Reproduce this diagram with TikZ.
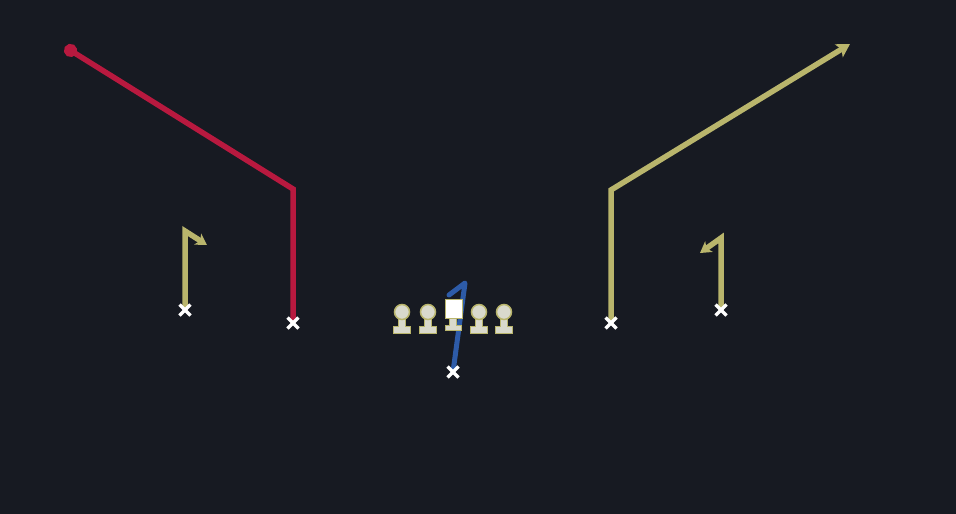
\documentclass[tikz,border=0pt]{standalone}
\usetikzlibrary{arrows.meta}
\definecolor{bg}{HTML}{171A22}
\definecolor{redr}{HTML}{B8193F}
\definecolor{yelr}{HTML}{B9B56C}
\definecolor{bluer}{HTML}{2D5BA8}
\definecolor{linem}{HTML}{D9D9CC}
\begin{document}
\begin{tikzpicture}[x=1pt,y=-1pt,
  route/.style={line width=5.5pt,line join=miter},
  lineman/.style={inner sep=0pt,minimum size=0pt}]
\fill[bg] (0,0) rectangle (956,514);
\useasboundingbox (0,0) rectangle (956,514);
% players (X marks)
\foreach \n/\x/\y in {wl/185/310, sl/293/323, sr/611/323, wr/721/310, qb/453/372}{
  \coordinate (\n) at (\x,\y);
}
\coordinate (wlt) at (185,231);
\coordinate (wle) at (207,245);
\coordinate (slt) at (293,189);
\coordinate (sle) at (65,47);
\coordinate (srt) at (611,190);
\coordinate (sre) at (850,44);
\coordinate (wrt) at (721,238);
\coordinate (wre) at (700,253);
\coordinate (qbt) at (465,283);
\coordinate (qbe) at (449,295);
% routes
\draw[route,draw=redr,-{Circle[length=13pt]}] (sl) -- (slt) -- (sle);
\draw[route,draw=yelr,-{Stealth[length=13pt,width=15pt,inset=3pt]}] (sr) -- (srt) -- (sre);
\draw[route,draw=yelr,-{Stealth[length=11pt,width=13pt,inset=3pt]}] (wl) -- (wlt) -- (wle);
\draw[route,draw=yelr,-{Stealth[length=11pt,width=13pt,inset=3pt]}] (wr) -- (wrt) -- (wre);
\draw[line width=5pt,draw=bluer,line join=round,line cap=round] (qb) -- (qbt) -- (qbe);
% linemen
\foreach \n/\x in {lt/402, lg/428, rg/479, rt/504}{
  \node[lineman] (\n) at (\x,320) {};
  \fill[linem,draw=yelr,line width=1pt] (\x-3.5,318) -- (\x-3.5,326) -- (\x-8.5,326) -- (\x-8.5,333) -- (\x+8.5,333) -- (\x+8.5,326) -- (\x+3.5,326) -- (\x+3.5,318) -- cycle;
  \fill[linem,draw=yelr,line width=1.5pt] (\x,312) circle (7.5);
}
\node[lineman] (c) at (453,318) {};
\fill[linem,draw=yelr,line width=1pt] (449.5,317) -- (449.5,325) -- (445,325) -- (445,330) -- (461,330) -- (461,325) -- (456.5,325) -- (456.5,317) -- cycle;
\fill[white,draw=yelr,line width=0.8pt] (445,299) rectangle (462,318);
% X marks
\foreach \n in {wl,sl,sr,wr,qb}{
  \draw[white,line width=3.5pt] ([shift={(-5.5,-5.5)}]\n) -- ([shift={(5.5,5.5)}]\n);
  \draw[white,line width=3.5pt] ([shift={(-5.5,5.5)}]\n) -- ([shift={(5.5,-5.5)}]\n);
}
\end{tikzpicture}
\end{document}
